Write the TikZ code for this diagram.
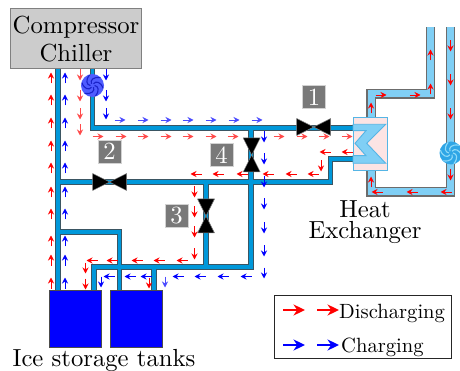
\documentclass[tikz,border=0pt]{standalone}
\usetikzlibrary{arrows.meta}
\definecolor{pipeblue}{HTML}{0098DA}
\definecolor{pipeedge}{HTML}{3A5562}
\definecolor{lightpipe}{HTML}{80CFF5}
\definecolor{hxedge}{HTML}{55B5E5}
\definecolor{hxfill}{HTML}{FCE4E4}
\definecolor{softred}{HTML}{FF4A4A}
\definecolor{softblue}{HTML}{4A4AFF}
\definecolor{pumpAfill}{HTML}{4F5CFF}
\definecolor{pumpAblade}{HTML}{1A22C8}
\definecolor{pumpBfill}{HTML}{2FA6E6}
\definecolor{pumpBblade}{HTML}{90DAF8}
\tikzset{
  x=1pt,y=-1pt,
  pipeout/.style={draw=pipeedge,line width=5.6pt,line join=miter},
  pipein/.style={draw=pipeblue,line width=3.4pt,line join=miter},
  lpipeout/.style={draw=gray!85!black,line width=9.4pt,line join=miter},
  lpipein/.style={draw=lightpipe,line width=7pt,line join=miter},
  flow/.style={line width=0.9pt,-{Stealth[length=6pt,width=6pt,inset=2pt]}},
  legendarrow/.style={line width=2pt,-{Stealth[length=11.5pt,width=11pt,inset=3.6pt]}},
  numbox/.style={fill=gray!95!black,draw=gray!35,line width=0.5pt,text=white,minimum width=23pt,minimum height=23pt,inner sep=0pt},
  bigtext/.style={font=\fontsize{10}{11}\selectfont,align=center,inner sep=0pt,scale=2.47,transform shape},
  tank/.style={fill=blue,draw=black!70,line width=0.9pt},
  valvebody/.style={fill=black,draw=gray,line width=0.5pt,line join=round},
  pumpnode/.style={circle,minimum size=23pt,inner sep=0pt},
}
\newcommand\bigdigit[1]{\scalebox{2.47}{#1}}
\newcommand\legendtext[1]{\scalebox{2.06}{#1}}
\newcommand\flowV[4]{\foreach \q in {#4}{\draw[flow,#1] ({#2},{\q-(#3)*5.5}) -- ({#2},{\q+(#3)*5.5});}}
\newcommand\flowH[4]{\foreach \q in {#4}{\draw[flow,#1] ({\q-(#3)*5.5},{#2}) -- ({\q+(#3)*5.5},{#2});}}
\newcommand\valveH[2]{\draw[valvebody] (#1-17,#2-8.5) -- (#1,#2) -- (#1-17,#2+8.5) -- cycle;
  \draw[valvebody] (#1+17,#2-8.5) -- (#1,#2) -- (#1+17,#2+8.5) -- cycle;}
\newcommand\valveV[2]{\draw[valvebody] (#1-8.5,#2-17) -- (#1,#2) -- (#1+8.5,#2-17) -- cycle;
  \draw[valvebody] (#1-8.5,#2+17) -- (#1,#2) -- (#1+8.5,#2+17) -- cycle;}
\newcommand\pumpswirl[4]{\fill[#3] (#1,#2) circle (11.5);
  \foreach \a in {0,60,...,300}{\draw[#4,line width=1.1pt] ({#1+2*cos(\a)},{#2+2*sin(\a)}) .. controls ({#1+6*cos(\a+5)},{#2+6*sin(\a+5)}) and ({#1+9*cos(\a+35)},{#2+9*sin(\a+35)}) .. ({#1+11*cos(\a+75)},{#2+11*sin(\a+75)});}}
\begin{document}
\begin{tikzpicture}
\useasboundingbox (0,0) rectangle (460,371);
% named nodes
\node[fill=gray!40,draw=gray,line width=0.7pt,minimum width=131pt,minimum height=60pt,inner sep=0pt] (comp) at (76.2,38.7) {};
\node[bigtext] (complabel) at (76,39) {Compressor\\Chiller};
\node[fill=hxfill,draw=hxedge,line width=0.9pt,minimum width=34pt,minimum height=53pt,inner sep=0pt] (hx) at (370,143.5) {};
\node[tank,minimum width=52pt,minimum height=57pt,inner sep=0pt] (tankA) at (75,318.5) {};
\node[tank,minimum width=52pt,minimum height=57pt,inner sep=0pt] (tankB) at (136,318.5) {};
\node[pumpnode] (pumpA) at (92.5,85.5) {};
\node[pumpnode] (pumpB) at (451,153) {};
% junction coordinates
\coordinate (a1) at (58,69); \coordinate (a2) at (58,290);
\coordinate (b1) at (92.5,69); \coordinate (b2) at (92.5,128); \coordinate (b3) at (353,128);
\coordinate (c1) at (58,182); \coordinate (c2) at (330.5,182); \coordinate (c3) at (330.5,159); \coordinate (c4) at (353,159);
\coordinate (d1) at (251,128); \coordinate (d2) at (251,267); \coordinate (d3) at (94,267); \coordinate (d4) at (94,290);
\coordinate (e1) at (206,182); \coordinate (e2) at (206,267);
\coordinate (f1) at (58,232); \coordinate (f2) at (119.5,232); \coordinate (f3) at (119.5,290);
\coordinate (g1) at (154,267); \coordinate (g2) at (154,290);
\coordinate (h1) at (371,117); \coordinate (h2) at (371,94); \coordinate (h3) at (430.5,94); \coordinate (h4) at (430.5,27);
\coordinate (i1) at (450.5,27); \coordinate (i2) at (450.5,192); \coordinate (i3) at (371,192); \coordinate (i4) at (371,170);
% cooling loop pipes
\def\pipes{(a1)--(a2) (b1)--(b2)--(b3) (c1)--(c2)--(c3)--(c4) (d1)--(d2)--(d3)--(d4) (e1)--(e2) (f1)--(f2)--(f3) (g1)--(g2)}
\draw[pipeout] \pipes;
\draw[pipein] \pipes;
% condenser loop pipes
\def\lpipes{(h1)--(h2)--(h3)--(h4) (i1)--(i2)--(i3)--(i4)}
\draw[lpipeout] \lpipes;
\draw[lpipein] \lpipes;
% tanks on top of pipe ends
\node[tank,minimum width=52pt,minimum height=57pt,inner sep=0pt] at (tankA) {};
\node[tank,minimum width=52pt,minimum height=57pt,inner sep=0pt] at (tankB) {};
% heat exchanger
\node[fill=hxfill,draw=hxedge,line width=0.9pt,minimum width=34pt,minimum height=53pt,inner sep=0pt] at (hx) {};
\draw[fill=lightpipe,draw=hxedge,line width=0.9pt,line join=miter] (353,124.3) -- (385.7,124.3) -- (366.7,143.3) -- (385.7,163.3) -- (353,163.3) -- (353,155.7) -- (366,155.7) -- (355,143.3) -- (366,130.7) -- (353,130.7) -- cycle;
% valves
\valveH{313.7}{127}
\valveH{109.6}{182}
\valveV{251.7}{155}
\valveV{206}{216}
% pumps
\pumpswirl{92.5}{85.5}{pumpAfill}{pumpAblade}
\pumpswirl{451}{153}{pumpBfill}{pumpBblade}
% number labels
\node[numbox] (n1) at (314,97) {\bigdigit{1}};
\node[numbox] (n2) at (109.5,151.5) {\bigdigit{2}};
\node[numbox] (n4) at (221.5,155) {\bigdigit{4}};
\node[numbox] (n3) at (176.5,216) {\bigdigit{3}};
% text labels
\node[font=\fontsize{10}{8.5}\selectfont,align=center,inner sep=0pt,scale=2.47,transform shape] (hxlabel) at (365,222) {Heat\\Exchanger};
\node[bigtext,anchor=base] (icelabel) at (104,366) {Ice storage tanks};
% red flow
\flowV{red}{51}{-1}{78,100,123,146,168,192,214,241,260,283}
\flowV{softred}{80}{1}{75,96,114,130}
\flowH{softred}{136.5}{1}{98,121,143,166,188,211,233,279,302,324,347}
\flowH{red}{174}{-1}{196,218,242,268,291,313}
\flowH{red}{152}{-1}{325,347}
\flowV{red}{321}{1}{166}
\flowV{red}{194.5}{1}{192,212,232,254}
\flowH{red}{260.5}{-1}{92,112,137,159,182}
\flowV{red}{85.5}{1}{268,284}
\flowV{red}{149}{1}{283}
\flowV{red}{371}{-1}{108,182}
\flowH{red}{95}{1}{381,415}
\flowV{red}{430.5}{-1}{55,89}
\flowV{red}{450.5}{1}{46,80,114,175}
\flowH{red}{192}{-1}{377,412,446}
% blue flow
\flowV{blue}{65}{-1}{78,100,123,146,168,192,214,241,260,283}
\flowV{blue}{106}{1}{75,96,114}
\flowH{softblue}{120}{1}{120,143,166,188,211,234,257}
\flowV{blue}{264}{1}{137,159,182,204,228,251,273}
\flowH{blue}{276.5}{-1}{109,130,146,178,200,223,246}
\flowV{blue}{101}{1}{282}
\flowV{softblue}{165}{1}{282}
% legend
\node[draw=black!85,line width=1pt,minimum width=177pt,minimum height=63pt,inner sep=0pt] (legend) at (362.5,326.5) {};
\coordinate (r1) at (283,310); \coordinate (r2) at (305,310); \coordinate (r3) at (317,310); \coordinate (r4) at (339,310);
\coordinate (s1) at (283,345); \coordinate (s2) at (305,345); \coordinate (s3) at (317,345); \coordinate (s4) at (339,345);
\draw[legendarrow,red] (r1) -- (r2);
\draw[legendarrow,red] (r3) -- (r4);
\draw[legendarrow,blue] (s1) -- (s2);
\draw[legendarrow,blue] (s3) -- (s4);
\node[anchor=base west,inner sep=0pt] (ld) at (339,318) {\legendtext{Discharging}};
\node[anchor=base west,inner sep=0pt] (lc) at (341,352) {\legendtext{Charging}};
\end{tikzpicture}
\end{document}
